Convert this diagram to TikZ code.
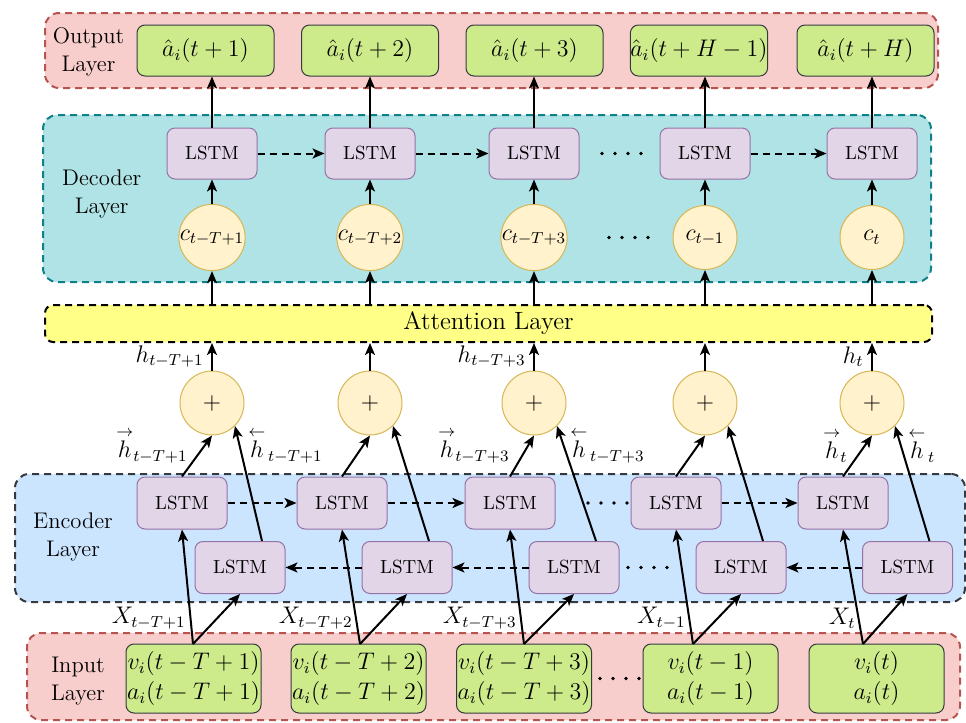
\documentclass[tikz,border=0pt]{standalone}
\usepackage{amsmath}
\usepackage{amssymb}
\usepackage{xcolor}
\usetikzlibrary{arrows.meta, positioning, calc}

\definecolor{redfill}{HTML}{F8CECC}
\definecolor{redline}{HTML}{B85450}
\definecolor{greenfill}{HTML}{CDEB8B}
\definecolor{boxline}{HTML}{36393D}
\definecolor{tealfill}{HTML}{B0E3E6}
\definecolor{tealline}{HTML}{0E8088}
\definecolor{lstmfill}{HTML}{E1D5E7}
\definecolor{lstmline}{HTML}{9673A6}
\definecolor{ballfill}{HTML}{FFF2CC}
\definecolor{ballline}{HTML}{D6B656}
\definecolor{attfill}{HTML}{FFFF88}
\definecolor{bluefill}{HTML}{CCE5FF}

\begin{document}
\begin{tikzpicture}[x=0.5pt, y=-0.5pt,
  txt/.style={font=\fontsize{11.7}{14}\selectfont},
  layer/.style={line width=1pt, dash pattern=on 3.5pt off 2.5pt, rounded corners=7pt, inner sep=0pt},
  laytext/.style={font=\fontsize{11.3}{14}\selectfont, align=center, inner sep=0pt},
  outbox/.style={txt, draw=boxline, fill=greenfill, rounded corners=4pt, line width=0.5pt, minimum width=68.5pt, minimum height=25.5pt, inner sep=0pt},
  inbox/.style={outbox, minimum width=67.5pt, minimum height=34.5pt, align=center},
  lstm/.style={draw=lstmline, fill=lstmfill, rounded corners=4pt, line width=0.5pt, minimum width=45pt, minimum height=25.5pt, font=\fontsize{9.5}{11}\selectfont},
  ball/.style={txt, circle, draw=ballline, fill=ballfill, line width=0.5pt, minimum size=32pt, inner sep=0pt},
  arr/.style={-{Stealth[length=6pt,width=5pt,inset=1.5pt]}, line width=1pt},
  dasharr/.style={arr, dash pattern=on 3.5pt off 2.5pt},
]
\useasboundingbox (0,0) rectangle (966,723);

% Layer backgrounds
\node[layer, draw=redline, fill=redfill, minimum width=446.5pt, minimum height=37.5pt] (outlayer) at (491.5,50.5) {};
\node[layer, draw=tealline, fill=tealfill, minimum width=444pt, minimum height=83.5pt] (declayer) at (487,198.5) {};
\node[layer, draw=boxline, fill=bluefill, minimum width=475pt, minimum height=64pt] (enclayer) at (490,538) {};
\node[layer, draw=redline, fill=redfill, minimum width=466.5pt, minimum height=43.5pt] (inlayer) at (493.5,676.5) {};
\node[layer, draw=black, fill=attfill, rounded corners=4pt, minimum width=443.5pt, minimum height=18.5pt, font=\fontsize{12.5}{14}\selectfont] (att) at (488.5,323.5) {Attention Layer};

\node[laytext] (outlab) at (88.5,52) {Output\\Layer};
\node[laytext] (declab) at (101.7,194) {Decoder\\Layer};
\node[laytext] (enclab) at (73,537) {Encoder\\Layer};
\node[laytext] (inlab) at (78,681) {Input\\Layer};

% Decoder side: context, LSTM and predictions
\foreach \i/\x/\ox/\hor/\ctx in {1/212/205.5/{t+1}/{t-T+1}, 2/370/370/{t+2}/{t-T+2}, 3/534/534.5/{t+3}/{t-T+3}, 4/705/699/{t+H-1}/{t-1}, 5/872/865.5/{t+H}/t} {
   \node[outbox] (o\i) at (\ox,50.5) {$\hat{a}_i(\hor)$};
   \node[lstm] (d\i) at (\x,153.5) {LSTM};
   \node[ball] (c\i) at (\x,237.5) {$c_{\ctx}$};
   \node[ball] (p\i) at (\x,403) {$+$};
   \draw[arr] (d\i.north) -- (d\i.north |- o\i.south);
   \draw[arr] (c\i) -- (d\i);
   \draw[arr] (c\i.south |- att.north) -- (c\i.south);
   \draw[arr] (p\i.north) -- (p\i.north |- att.south);
}
\foreach \a/\b in {1/2, 2/3, 4/5} {
   \draw[dasharr] (d\a.east) -- (d\b.west);
}

% Encoder side: bidirectional LSTM and inputs
\foreach \i/\ux/\lx/\sx/\ix/\arg in {1/182/240/193/193.5/{t-T+1}, 2/342/407/360/358.5/{t-T+2}, 3/510/574/524/524/{t-T+3}, 4/676/741/693/710.5/{t-1}, 5/843/907.5/863/876.5/t} {
   \node[inbox] (in\i) at (\ix,678.5) {$v_i(\arg)$\\[1pt]$a_i(\arg)$};
   \node[lstm, minimum height=26pt] (u\i) at (\ux,503) {LSTM};
   \node[lstm, minimum height=26pt] (l\i) at (\lx,567.5) {LSTM};
   \coordinate (s\i) at (\sx,644);
   \draw[arr] (s\i) -- (u\i.south);
   \draw[arr] (s\i) -- (l\i.south);
   \draw[arr] (u\i.north) -- (p\i.south);
   \draw[arr] ($(l\i.north)+(22,0)$) -- (p\i.-45);
   \node[txt, anchor=east, inner sep=0pt] (x\i) at ($(s\i)+(-7,-26)$) {$X_{\arg}$};
}
\foreach \a/\b in {1/2, 2/3, 4/5} {
   \draw[dasharr] (u\a.east) -- (u\b.west);
   \draw[dasharr] (l\b.west) -- (l\a.east);
}

% Hidden state labels
\foreach \i/\arg in {1/{t-T+1}, 3/{t-T+3}, 5/t} {
   \node[txt, anchor=east, inner sep=0pt] (h\i) at ($(p\i.north)+(-8,-14)$) {$h_{\arg}$};
   \node[txt, anchor=east, inner sep=0pt] (hf\i) at ($(p\i.south)+(-24,10)$) {$\overset{\rightarrow}{h}{}_{\arg}$};
   \node[txt, anchor=west, inner sep=0pt] (hb\i) at ($(p\i.south)+(36,10)$) {$\overset{\leftarrow}{h}{}_{\,\arg}$};
}

% Skipped steps
\foreach \dx/\dy in {602/153.5, 609/237.5, 588/503, 628/567.5, 600/678.5} {
   \foreach \k in {0,...,3} {
      \fill (\dx+13*\k,\dy) circle (0.9pt);
   }
}
\end{tikzpicture}
\end{document}
